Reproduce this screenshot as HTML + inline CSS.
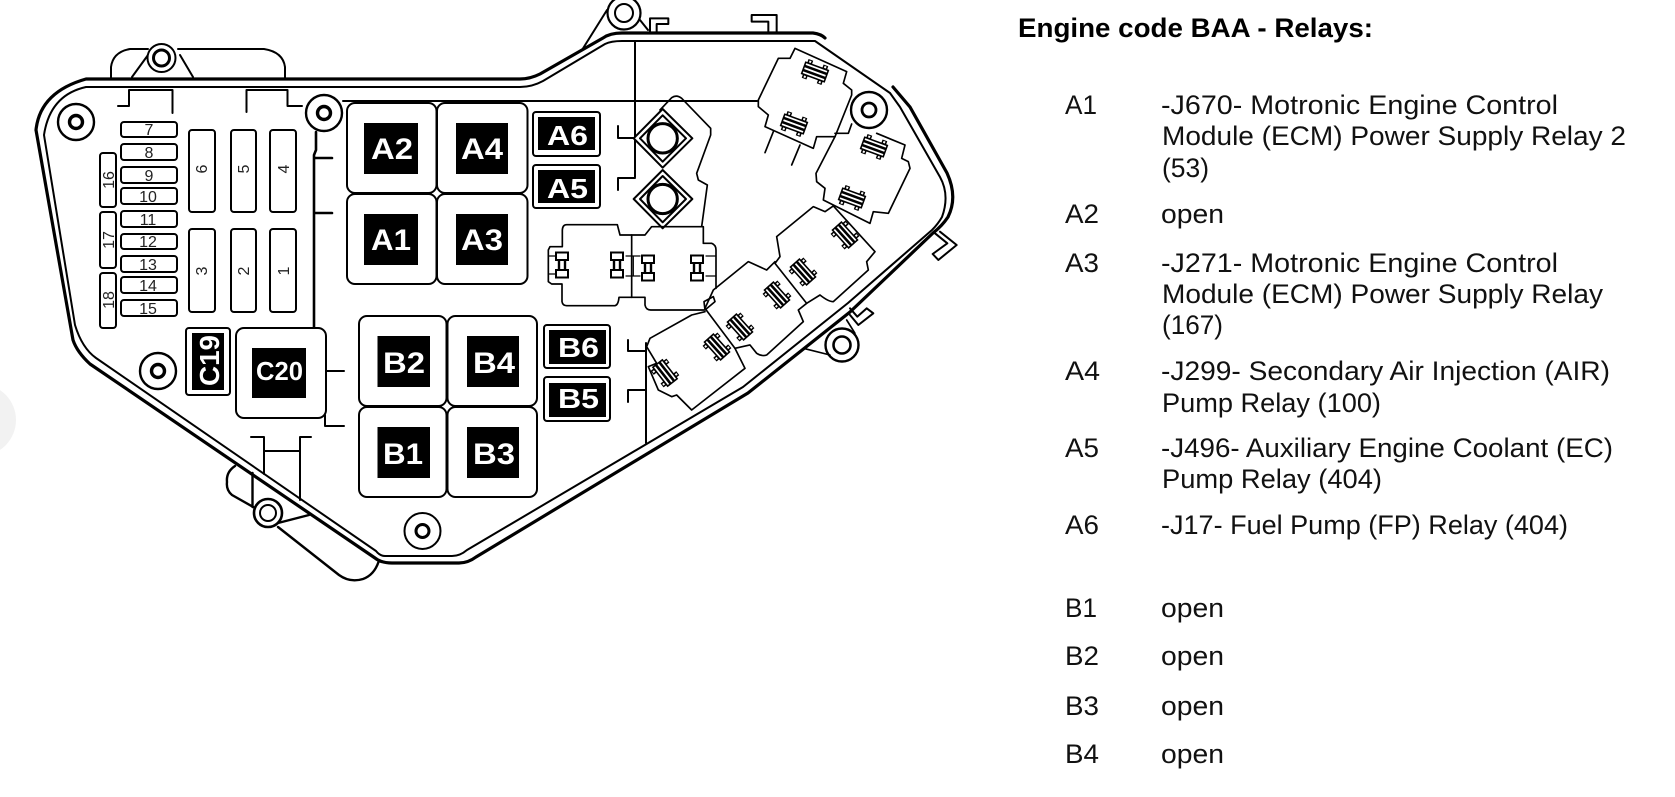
<!DOCTYPE html>
<html><head><meta charset="utf-8"><style>
html,body{margin:0;padding:0;background:#fff;width:1675px;height:797px;overflow:hidden}
svg{display:block}
text{font-family:"Liberation Sans",sans-serif}
.l{fill:none;stroke:#000;stroke-width:2;stroke-linejoin:round;stroke-linecap:round}
.t{fill:#fff;stroke:#000;stroke-width:2}
.w{font-weight:bold;fill:#fff}
.n{font-size:16px;fill:#222;text-anchor:middle}
.b{font-size:27px;fill:#111}
</style></head><body>
<svg width="1675" height="797" viewBox="0 0 1675 797" xmlns="http://www.w3.org/2000/svg">
<defs>
<g id="k"><rect x="-6" y="-12.5" width="12" height="7.5" fill="#fff" stroke="#000" stroke-width="2"/><rect x="-6" y="5" width="12" height="7.5" fill="#fff" stroke="#000" stroke-width="2"/><path d="M-3 -5V5" stroke="#000" stroke-width="2.4"/><path d="M3 -5V5" stroke="#000" stroke-width="2.4"/></g>
<g id="a"><rect x="-12" y="-6" width="24" height="12" fill="#fff" stroke="#000" stroke-width="1.6"/><path d="M-12 -2.2H12M-12 2.2H12" fill="none" stroke="#000" stroke-width="2.6"/><path d="M-8 -10V-6M8 -10V-6M-8 6V10M8 6V10" fill="none" stroke="#000" stroke-width="5" /><path d="M-8 -9V-7M8 -9V-7M-8 7V9M8 7V9" fill="none" stroke="#fff" stroke-width="2"/></g>
</defs>
<rect width="1675" height="797" fill="#fff"/>
<circle cx="-20" cy="420" r="36" fill="#f2f2f2"/>

<!-- lugs behind -->
<path class="l" d="M111 79V67Q113 52 130 49H148M178 49H264Q283 52 285 67V79M132 77L148 55M193 77L180 55"/>
<path class="l" style="stroke-width:2.4" d="M235 466Q226 472 227 482Q226 490 232 495L255 508M252.5 473V507M278 527L339 575Q350 583 363 579Q374 575 378.5 562M278 523L309 515"/>
<path class="l" d="M582 50L607 10M640 20L648 30"/>

<!-- outline -->
<path class="l" style="stroke-width:3.2" d="M36 130Q40 92 86 79H520Q530 79 540 74L603 38Q610 33 622 33H813Q821 34 825 38M893 87L910 107L947 173Q958 197 948 217Q942 226 933 233L850 312L748 393L476 557Q468 563 459 563H392Q381 563 375 558L90 364Q77 352 73 340L36 130"/>
<path class="l" d="M44 135Q50 95 86 87H520Q532 87 543 81L605 44Q611 41 622 41H815L890 93L900 107L940 177Q950 195 942 217Q938 224 932 230L848 303L743 387L467 550Q460 556 452 556H385Q380 556 376 551L96 358Q82 348 75 325Z"/>

<!-- inner lines -->
<path class="l" d="M118 106H129V90H172.5V113M246.5 112V90H287.5V106H302"/>
<path class="l" d="M343 101H757"/>
<path class="l" style="stroke-width:2.6" d="M316 132V150L314 155V328M314 158H332M314 213H332"/>
<path class="l" d="M326 371H344M325 415V426H344"/>
<path class="l" d="M251 437H264V474M311 437H300V500M264 451H300"/>
<path class="l" d="M635 41V138M635 138V177M646 343V443"/>
<path class="l" d="M618 126V138H633M618 190V178H635M628 340V351H646M628 402V390H646"/>

<!-- bolts -->
<g fill="#fff" stroke="#000">
<circle cx="161.5" cy="58" r="14" stroke-width="2"/><circle cx="161.5" cy="58" r="8" stroke-width="3"/>
<circle cx="76" cy="122" r="18" stroke-width="2.4"/><circle cx="76" cy="122" r="6.5" stroke-width="3.4"/>
<circle cx="324" cy="113" r="18" stroke-width="2.4"/><circle cx="324" cy="113" r="6.5" stroke-width="3.4"/>
<circle cx="158" cy="371" r="18" stroke-width="2.4"/><circle cx="158" cy="371" r="6.5" stroke-width="3.4"/>
<circle cx="422.5" cy="531" r="18" stroke-width="2"/><circle cx="422.5" cy="531" r="6.5" stroke-width="3"/>
<circle cx="268" cy="513" r="14" stroke-width="2.6"/><circle cx="268" cy="513" r="8" stroke-width="2"/>
<circle cx="624" cy="13" r="16.5" stroke-width="2.2"/><circle cx="624" cy="13" r="9" stroke-width="2"/>
<circle cx="869" cy="110" r="18" stroke-width="2.4"/><circle cx="869" cy="110" r="7" stroke-width="2.8"/>
<circle cx="842" cy="345" r="16.5" stroke-width="2.4"/><circle cx="842" cy="345" r="8.5" stroke-width="2.6"/>
</g>

<!-- fuses -->
<g class="t" fill="#fff">
<rect x="121" y="122" width="56" height="15" rx="3"/><rect x="121" y="144" width="56" height="16" rx="3"/><rect x="121" y="167" width="56" height="16" rx="3"/><rect x="121" y="188" width="56" height="16" rx="3"/><rect x="121" y="211" width="56" height="16" rx="3"/><rect x="121" y="234" width="56" height="15" rx="3"/><rect x="121" y="256" width="56" height="16" rx="3"/><rect x="121" y="277" width="56" height="16" rx="3"/><rect x="121" y="300" width="56" height="16" rx="3"/>
<rect x="100" y="153" width="16" height="54" rx="3"/><rect x="100" y="212" width="16" height="56" rx="3"/><rect x="100" y="273" width="16" height="55" rx="3"/>
<rect x="189" y="130" width="26" height="82" rx="3"/><rect x="231" y="130" width="25" height="82" rx="3"/><rect x="270" y="130" width="26" height="82" rx="3"/>
<rect x="189" y="229" width="26" height="83" rx="3"/><rect x="231" y="229" width="25" height="83" rx="3"/><rect x="270" y="229" width="26" height="83" rx="3"/>
</g>
<g class="n">
<text x="149" y="135">7</text><text x="149" y="158">8</text><text x="149" y="181">9</text><text x="148" y="202">10</text><text x="148" y="225">11</text><text x="148" y="247">12</text><text x="148" y="270">13</text><text x="148" y="291">14</text><text x="148" y="314">15</text>
<text transform="translate(114 180) rotate(-90)">16</text><text transform="translate(114 240) rotate(-90)">17</text><text transform="translate(114 300) rotate(-90)">18</text>
<text transform="translate(207 169) rotate(-90)">6</text><text transform="translate(249 169) rotate(-90)">5</text><text transform="translate(289 169) rotate(-90)">4</text>
<text transform="translate(207 271) rotate(-90)">3</text><text transform="translate(249 271) rotate(-90)">2</text><text transform="translate(289 271) rotate(-90)">1</text>
</g>

<!-- relays A, B, C -->
<g class="t">
<rect x="347" y="103" width="89.5" height="90" rx="8"/><rect x="437" y="103" width="90.5" height="90" rx="8"/><rect x="347" y="194" width="89.5" height="90" rx="8"/><rect x="437" y="194" width="90.5" height="90" rx="8"/>
<rect x="359" y="316" width="87.5" height="90" rx="8"/><rect x="447.5" y="316" width="89.5" height="90" rx="8"/><rect x="359" y="407" width="87.5" height="90" rx="8"/><rect x="447.5" y="407" width="89.5" height="90" rx="8"/>
<rect x="236" y="328" width="90" height="90" rx="8"/>
<rect x="186" y="328" width="44" height="67" rx="3"/>
<rect x="533" y="112" width="67" height="44" rx="3"/><rect x="533" y="165" width="67" height="43" rx="3"/>
<rect x="544" y="325" width="66" height="43" rx="3"/><rect x="544" y="377" width="66" height="44" rx="3"/>
</g>
<g fill="#000">
<rect x="364" y="123" width="54" height="51"/><rect x="456" y="123" width="52" height="51"/><rect x="364" y="214" width="54" height="51"/><rect x="456" y="214" width="52" height="51"/>
<rect x="377.5" y="336" width="52.5" height="51"/><rect x="467" y="336" width="52" height="51"/><rect x="377.5" y="427" width="52.5" height="51"/><rect x="467" y="427" width="52" height="51"/>
<rect x="252" y="348" width="54" height="50"/><rect x="192" y="333" width="32" height="57"/>
<rect x="538" y="117" width="57" height="33"/><rect x="538" y="170" width="57" height="33"/><rect x="549" y="330" width="57" height="34"/><rect x="549" y="383" width="57" height="34"/>
</g>
<g class="w" font-size="30">
<text x="371" y="159" textLength="42" lengthAdjust="spacingAndGlyphs">A2</text><text x="461" y="159" textLength="42" lengthAdjust="spacingAndGlyphs">A4</text><text x="371" y="250" textLength="40" lengthAdjust="spacingAndGlyphs">A1</text><text x="461" y="250" textLength="42" lengthAdjust="spacingAndGlyphs">A3</text>
<text x="383" y="373" textLength="42" lengthAdjust="spacingAndGlyphs">B2</text><text x="473" y="373" textLength="42" lengthAdjust="spacingAndGlyphs">B4</text><text x="383" y="464" textLength="40" lengthAdjust="spacingAndGlyphs">B1</text><text x="473" y="464" textLength="42" lengthAdjust="spacingAndGlyphs">B3</text>
<text x="547" y="145" textLength="41" lengthAdjust="spacingAndGlyphs" font-size="28">A6</text><text x="547" y="198" textLength="41" lengthAdjust="spacingAndGlyphs" font-size="28">A5</text>
<text x="558" y="357" textLength="41" lengthAdjust="spacingAndGlyphs" font-size="28">B6</text><text x="558" y="408" textLength="41" lengthAdjust="spacingAndGlyphs" font-size="28">B5</text>
<text x="256" y="380" textLength="47" lengthAdjust="spacingAndGlyphs" font-size="26">C20</text>
<text transform="translate(219 386) rotate(-90)" textLength="51" lengthAdjust="spacingAndGlyphs" font-size="28">C19</text>
</g>

<!-- right-hand relays, coordinates at 3x -->
<g transform="translate(500 0) scale(.33333)">
<g fill="none" stroke="#000" stroke-width="5" stroke-linejoin="round" stroke-linecap="round">
<!-- diamond housing -->
<path d="M480 330L515 293Q530 283 545 295L632 385V405L590 520L595 540L622 555L605 680"/>
<g fill="#fff">
<path stroke-width="6" d="M488 327L577 415L488 503L401 415Z"/><path d="M488 346L558 415L488 485L420 415Z" stroke-width="6"/>
<path stroke-width="6" d="M488 510L577 597L488 685L401 597Z"/><path d="M488 528L558 597L488 667L420 597Z" stroke-width="6"/>
<circle cx="488" cy="415" r="44" stroke-width="9"/><circle cx="488" cy="597" r="44" stroke-width="9"/>
</g>
<!-- horizontal pair -->
<path d="M395 705H360L352 674H200Q188 674 187 690V740H150L145 750V845L155 852H186V905Q188 917 200 917H345Q355 915 357 892H395M395 705V892"/>
<path d="M395 705H435L455 680H610V730H635Q648 735 648 750V865M395 892H435V915Q438 930 452 930H612"/>
<path stroke-width="3.5" d="M148 768H170M148 822H170M378 768H400V828H378M400 768H420M400 828H420M618 768H648M618 828H648"/>
<!-- upper right -->
<path fill="#fff" d="M885 145L1040 215L1030 250L1055 270V285L1005 410L950 410L940 445L795 380L805 345L775 320V300L835 175L870 175Z"/>
<path d="M820 395L795 458M900 435L875 495"/>
<path d="M1005 410L948 520L950 545L975 565L970 600L1110 670L1120 635L1165 640L1230 505L1225 485L1205 475L1215 435L1130 400M1005 400H1045L1055 372"/>
<!-- middle relays -->
<path d="M1000 618L1125 755L1100 785L1105 810L1000 905Q985 905 960 885L920 910L825 790L840 770L830 710L940 620L975 635Z"/>
<path d="M825 785L800 810L745 785L640 870L615 925L705 1045L750 1035L770 1060Q785 1070 800 1065L910 965L895 930L920 910"/>
<path d="M640 890L612 905L615 930L645 905Z"/>
<path d="M615 935L575 945L450 1015L440 1040L470 1090L445 1100L475 1170L515 1190L530 1185L575 1230L735 1105L705 1045"/>
<!-- hooks -->
<path stroke-width="6" d="M450 100V55H505V72H470V100M755 45H830V100M755 45V65H805V100"/>
<path stroke-width="6" d="M1320 695L1370 735L1315 780L1298 762L1342 730L1305 700"/>
<path stroke-width="6" d="M1050 925L1072 950L1100 925L1120 940L1075 975L1050 945"/>
<path d="M910 1045L990 1065M1040 960L1065 1000"/>
</g>
</g>
<g>
<use href="#k" transform="translate(562 265)"/>
<use href="#k" transform="translate(617 265)"/>
<use href="#k" transform="translate(648 268)"/>
<use href="#k" transform="translate(697 268)"/>
<use href="#a" transform="translate(815 72) rotate(20)"/>
<use href="#a" transform="translate(794 124) rotate(20)"/>
<use href="#a" transform="translate(874 147) rotate(20)"/>
<use href="#a" transform="translate(852 198) rotate(20)"/>
<use href="#a" transform="translate(845 235) rotate(48)"/>
<use href="#a" transform="translate(803 272) rotate(48)"/>
<use href="#a" transform="translate(777 295) rotate(48)"/>
<use href="#a" transform="translate(740 327) rotate(48)"/>
<use href="#a" transform="translate(717 347) rotate(48)"/>
<use href="#a" transform="translate(665 373) rotate(52)"/>
</g>

<!-- text -->
<text x="1018" y="37" font-size="27" font-weight="bold" fill="#000" textLength="355" lengthAdjust="spacingAndGlyphs">Engine code BAA - Relays:</text>
<g class="b">
<text x="1065" y="114" textLength="32" lengthAdjust="spacingAndGlyphs">A1</text>
<text x="1161" y="114" textLength="397" lengthAdjust="spacingAndGlyphs">-J670- Motronic Engine Control</text>
<text x="1162" y="145" textLength="464" lengthAdjust="spacingAndGlyphs">Module (ECM) Power Supply Relay 2</text>
<text x="1162" y="177" textLength="47" lengthAdjust="spacingAndGlyphs">(53)</text>
<text x="1065" y="223" textLength="34" lengthAdjust="spacingAndGlyphs">A2</text>
<text x="1161" y="223" textLength="63" lengthAdjust="spacingAndGlyphs">open</text>
<text x="1065" y="272" textLength="34" lengthAdjust="spacingAndGlyphs">A3</text>
<text x="1161" y="272" textLength="397" lengthAdjust="spacingAndGlyphs">-J271- Motronic Engine Control</text>
<text x="1162" y="303" textLength="441" lengthAdjust="spacingAndGlyphs">Module (ECM) Power Supply Relay</text>
<text x="1162" y="334" textLength="61" lengthAdjust="spacingAndGlyphs">(167)</text>
<text x="1065" y="380" textLength="35" lengthAdjust="spacingAndGlyphs">A4</text>
<text x="1161" y="380" textLength="449" lengthAdjust="spacingAndGlyphs">-J299- Secondary Air Injection (AIR)</text>
<text x="1162" y="412" textLength="219" lengthAdjust="spacingAndGlyphs">Pump Relay (100)</text>
<text x="1065" y="457" textLength="34" lengthAdjust="spacingAndGlyphs">A5</text>
<text x="1161" y="457" textLength="452" lengthAdjust="spacingAndGlyphs">-J496- Auxiliary Engine Coolant (EC)</text>
<text x="1162" y="488" textLength="220" lengthAdjust="spacingAndGlyphs">Pump Relay (404)</text>
<text x="1065" y="534" textLength="34" lengthAdjust="spacingAndGlyphs">A6</text>
<text x="1161" y="534" textLength="407" lengthAdjust="spacingAndGlyphs">-J17- Fuel Pump (FP) Relay (404)</text>
<text x="1065" y="617" textLength="32" lengthAdjust="spacingAndGlyphs">B1</text>
<text x="1161" y="617" textLength="63" lengthAdjust="spacingAndGlyphs">open</text>
<text x="1065" y="665" textLength="34" lengthAdjust="spacingAndGlyphs">B2</text>
<text x="1161" y="665" textLength="63" lengthAdjust="spacingAndGlyphs">open</text>
<text x="1065" y="715" textLength="34" lengthAdjust="spacingAndGlyphs">B3</text>
<text x="1161" y="715" textLength="63" lengthAdjust="spacingAndGlyphs">open</text>
<text x="1065" y="763" textLength="34" lengthAdjust="spacingAndGlyphs">B4</text>
<text x="1161" y="763" textLength="63" lengthAdjust="spacingAndGlyphs">open</text>
</g>
</svg>
</body></html>
